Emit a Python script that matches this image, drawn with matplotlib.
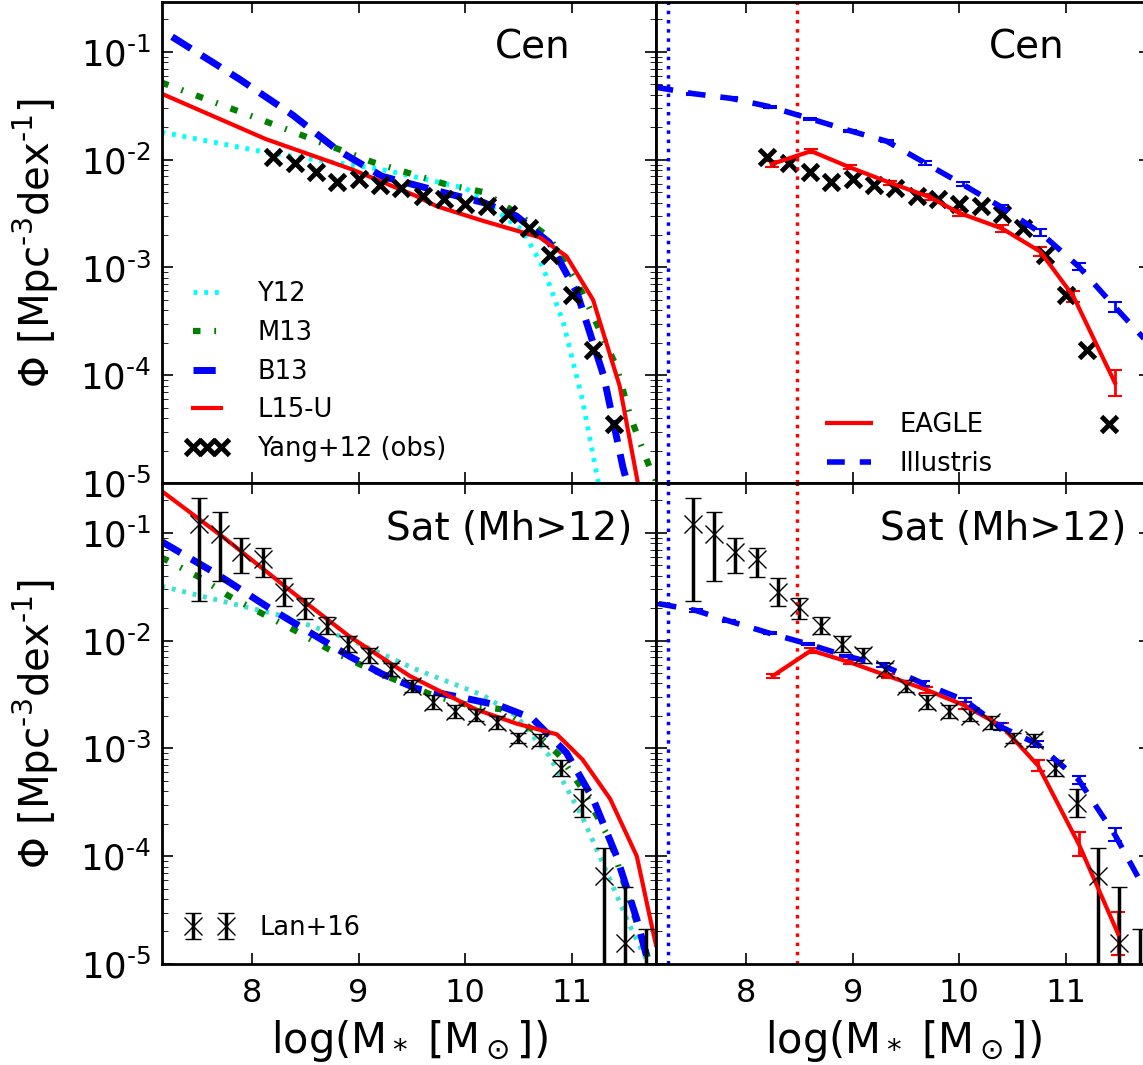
import numpy as np
import matplotlib
matplotlib.use('Agg')
import matplotlib.pyplot as plt
from matplotlib.lines import Line2D
from matplotlib.ticker import FuncFormatter

plt.rcParams['font.family'] = ['DejaVu Sans']
plt.rcParams['font.size'] = 24
plt.rcParams['axes.linewidth'] = 2
plt.rcParams['axes.unicode_minus'] = False
plt.rcParams['xtick.direction'] = 'in'
plt.rcParams['ytick.direction'] = 'in'
plt.rcParams['xtick.top'] = True
plt.rcParams['ytick.right'] = True
plt.rcParams['xtick.major.size'] = 8
plt.rcParams['ytick.major.size'] = 8
plt.rcParams['xtick.minor.size'] = 4
plt.rcParams['ytick.minor.size'] = 4
plt.rcParams['xtick.major.width'] = 1.2
plt.rcParams['ytick.major.width'] = 1.2
plt.rcParams['xtick.major.pad'] = 10
plt.rcParams['ytick.major.pad'] = 8
plt.rcParams['xtick.labelsize'] = 23
plt.rcParams['ytick.labelsize'] = 25.5

# --- centrals, models (top left)
y12_cen_x = [7.15, 8.13, 9.22, 10.01, 10.54, 10.73, 10.92, 11.1, 11.25]
y12_cen_y = [0.018, 0.0117, 0.0081, 0.0054, 0.0022, 0.001, 3.1e-4, 5.9e-5, 1e-5]
m13_cen_x = [7.15, 8.16, 9.13, 9.82, 10.17, 10.48, 10.79, 11.1, 11.42, 11.55, 11.73, 11.8]
m13_cen_y = [0.052, 0.022, 0.0095, 0.0059, 0.005, 0.0032, 0.0019, 5.8e-4, 1.2e-4, 4.1e-5, 1.4e-5, 1e-5]
b13_cen_x = [7.25, 7.88, 8.38, 8.79, 9.22, 9.85, 10.17, 10.48, 10.79, 11.05, 11.3, 11.48, 11.52]
b13_cen_y = [0.138, 0.056, 0.026, 0.0125, 0.007, 0.0048, 0.004, 0.003, 0.0017, 5.8e-4, 9.8e-5, 1.4e-5, 1e-5]
l15_cen_x = [7.15, 8.13, 8.94, 9.54, 9.73, 10.17, 10.7, 10.95, 11.2, 11.45, 11.62]
l15_cen_y = [0.041, 0.0155, 0.0081, 0.0046, 0.0037, 0.0027, 0.0019, 0.00127, 5e-4, 7.9e-5, 1e-5]

# Yang+12 observed centrals
yang_x = [8.2, 8.4, 8.6, 8.8, 9.0, 9.2, 9.4, 9.6, 9.8, 10.0, 10.2, 10.4, 10.6, 10.8, 11.0, 11.2, 11.4]
yang_y = [0.0105, 0.0093, 0.0076, 0.0062, 0.0066, 0.0058, 0.0054, 0.0046, 0.0043, 0.0039,
          0.0037, 0.0031, 0.0023, 0.0013, 5.6e-4, 1.7e-4, 3.5e-5]

# --- centrals, simulations (top right)
eagle_cen_x = [8.24, 8.61, 8.97, 9.35, 9.72, 10.0, 10.4, 10.76, 11.07, 11.46]
eagle_cen_y = [0.0091, 0.012, 0.0085, 0.0061, 0.0045, 0.0032, 0.0023, 0.0014, 5.4e-4, 8.5e-5]
eagle_cen_err = [0.03, 0.02, 0.02, 0.02, 0.03, 0.03, 0.03, 0.04, 0.05, 0.12]
ill_cen_x = [7.15, 7.5, 7.86, 8.22, 8.6, 8.97, 9.32, 9.68, 10.03, 10.4, 10.76, 11.12, 11.46, 11.79]
ill_cen_y = [0.047, 0.041, 0.037, 0.031, 0.024, 0.0186, 0.0148, 0.0093, 0.0059, 0.0036,
             0.0021, 0.00102, 4.3e-4, 1.9e-4]
ill_cen_err = [0.01, 0.01, 0.01, 0.01, 0.01, 0.01, 0.01, 0.02, 0.02, 0.02, 0.03, 0.03, 0.05, 0.06]

# --- satellites, models (bottom left)
y12_sat_x = [7.15, 7.66, 8.28, 8.91, 9.54, 10.17, 10.48, 10.79, 11.1, 11.36, 11.55, 11.7, 11.79]
y12_sat_y = [0.032, 0.024, 0.017, 0.0103, 0.0054, 0.0031, 0.002, 8.5e-4, 2.3e-4, 6e-5, 2.2e-5, 1.1e-5, 8e-6]
m13_sat_x = [7.15, 7.5, 7.78, 8.1, 8.41, 8.72, 9.03, 9.35, 9.7, 10.04, 10.35, 10.63, 10.89,
             11.1, 11.36, 11.61, 11.72, 11.79]
m13_sat_y = [0.059, 0.039, 0.026, 0.0177, 0.0123, 0.0083, 0.0059, 0.0043, 0.0031, 0.0025,
             0.0023, 0.0015, 8.5e-4, 4.2e-4, 1.4e-4, 2.4e-5, 1.1e-5, 8e-6]
b13_sat_x = [7.15, 7.66, 8.13, 8.6, 8.91, 9.22, 9.54, 10.01, 10.32, 10.63, 10.95, 11.2, 11.42,
             11.61, 11.7, 11.79]
b13_sat_y = [0.083, 0.042, 0.021, 0.011, 0.0072, 0.0049, 0.0036, 0.0029, 0.0025, 0.0019,
             9.1e-4, 3.4e-4, 1e-4, 2.6e-5, 1.2e-5, 7e-6]
l15_sat_x = [7.15, 7.75, 8.38, 8.91, 9.48, 10.1, 10.48, 10.86, 11.1, 11.36, 11.61, 11.73, 11.79]
l15_sat_y = [0.245, 0.088, 0.028, 0.011, 0.0047, 0.0023, 0.0017, 0.00135, 7.9e-4, 3.4e-4,
             1e-4, 2.8e-5, 1.5e-5]

# Lan+16 observed satellites (value, lower and upper bounds)
lan_x = [7.5, 7.7, 7.9, 8.1, 8.3, 8.5, 8.7, 8.9, 9.1, 9.3, 9.5, 9.7, 9.9, 10.1, 10.3, 10.5,
         10.7, 10.9, 11.1, 11.3, 11.5, 11.7]
lan_y = [0.121, 0.098, 0.066, 0.057, 0.028, 0.0205, 0.0138, 0.0093, 0.0073, 0.0054, 0.0038,
         0.0027, 0.0022, 0.002, 0.00174, 0.00126, 0.0012, 6.6e-4, 3.1e-4, 6.5e-5, 1.55e-5, 7e-6]
lan_lo = [0.0234, 0.036, 0.042, 0.039, 0.021, 0.016, 0.0115, 0.0078, 0.0062, 0.0047, 0.0033,
          0.0023, 0.0019, 0.0018, 0.0015, 0.00112, 0.00106, 5.6e-4, 2.3e-4, 1e-7, 1e-7, 1e-7]
lan_hi = [0.21, 0.155, 0.089, 0.072, 0.038, 0.025, 0.0165, 0.011, 0.0086, 0.0062, 0.0043,
          0.0031, 0.0025, 0.0023, 0.002, 0.0014, 0.00135, 7.8e-4, 4.2e-4, 1.2e-4, 5.2e-5, 2.1e-5]

# --- satellites, simulations (bottom right)
eagle_sat_x = [8.25, 8.61, 8.97, 9.33, 9.69, 10.05, 10.4, 10.74, 11.12, 11.49]
eagle_sat_y = [0.0047, 0.0081, 0.0063, 0.0047, 0.0035, 0.0025, 0.0016, 6.9e-4, 1.3e-4, 1.9e-5]
eagle_sat_err = [0.02, 0.02, 0.02, 0.02, 0.03, 0.03, 0.03, 0.05, 0.11, 0.2]
ill_sat_x = [7.18, 7.53, 7.84, 8.22, 8.58, 8.94, 9.28, 9.66, 10.05, 10.38, 10.73, 11.12, 11.46, 11.79]
ill_sat_y = [0.022, 0.019, 0.0152, 0.0117, 0.0093, 0.0072, 0.0059, 0.004, 0.0028, 0.0016,
             0.0011, 5.1e-4, 1.58e-4, 4e-5]
ill_sat_err = [0.01, 0.01, 0.01, 0.01, 0.01, 0.01, 0.02, 0.02, 0.02, 0.03, 0.03, 0.04, 0.06, 0.08]

# vertical resolution limits in the simulation panels
lim_illustris = 7.27
lim_eagle = 8.48

# line styles
st_y12 = dict(ls=':', lw=3.5, dashes=(0.8, 1.4))
st_m13 = dict(color='green', lw=4.5, dashes=(1.2, 2.2, 0.3, 2.2))
st_b13 = dict(color='blue', lw=5, dashes=(3.2, 1.8))
st_l15 = dict(color='red', ls='-', lw=3)
st_eagle = dict(color='red', ls='-', lw=3)
st_ill = dict(color='blue', lw=4, dashes=(3.2, 2.7))


def dex_err(y, e):
    y = np.array(y)
    e = np.array(e)
    return [y * (1 - 10 ** -e), y * (10 ** e - 1)]


def log_label(v, pos):
    k = int(round(np.log10(v)))
    return r'$\mathdefault{10^{\text{-}%d}}$' % (-k)


fig = plt.figure(figsize=(11.43, 10.65), dpi=100)
W, H = 0.4322, 0.4516
ax_tl = fig.add_axes([0.1417, 0.5465, W, H])
ax_tr = fig.add_axes([0.574, 0.5465, W, H])
ax_bl = fig.add_axes([0.1417, 0.0949, W, H])
ax_br = fig.add_axes([0.574, 0.0949, W, H])

# top left: centrals, empirical models
ax_tl.plot(y12_cen_x, y12_cen_y, color='cyan', label='Y12', **st_y12)
ax_tl.plot(m13_cen_x, m13_cen_y, label='M13', **st_m13)
ax_tl.plot(b13_cen_x, b13_cen_y, label='B13', **st_b13)
ax_tl.plot(l15_cen_x, l15_cen_y, label='L15-U', **st_l15)
ax_tl.plot(yang_x, yang_y, 'x', color='black', ms=12, mew=3.5, label='Yang+12 (obs)')
ax_tl.legend(loc='lower left', bbox_to_anchor=(0.0, -0.005), frameon=False, numpoints=3,
             fontsize=18.5, handlelength=1.7, labelspacing=0.5, handletextpad=1.1)

# top right: centrals, simulations
ax_tr.errorbar(eagle_cen_x, eagle_cen_y, yerr=dex_err(eagle_cen_y, eagle_cen_err),
               elinewidth=2, capsize=5, capthick=1.5, **st_eagle)
ax_tr.errorbar(ill_cen_x, ill_cen_y, yerr=dex_err(ill_cen_y, ill_cen_err),
               elinewidth=2, capsize=5, capthick=1.5, **st_ill)
ax_tr.plot(yang_x, yang_y, 'x', color='black', ms=12, mew=3.5)
sim_handles = [Line2D([], [], **st_eagle), Line2D([], [], **st_ill)]
ax_tr.legend(sim_handles, ['EAGLE', 'Illustris'], loc='lower left', bbox_to_anchor=(0.30, -0.035),
             frameon=False, fontsize=18.5, handlelength=1.7, labelspacing=0.5, handletextpad=1.1)

# bottom left: satellites, empirical models
ax_bl.plot(y12_sat_x, y12_sat_y, color='turquoise', **st_y12)
ax_bl.plot(m13_sat_x, m13_sat_y, **st_m13)
ax_bl.plot(b13_sat_x, b13_sat_y, **st_b13)
ax_bl.plot(l15_sat_x, l15_sat_y, **st_l15)
lan_err = [np.array(lan_y) - np.array(lan_lo), np.array(lan_hi) - np.array(lan_y)]
ax_bl.errorbar(lan_x, lan_y, yerr=lan_err, fmt='x', color='black', ms=13, mew=1.0,
               elinewidth=2.5, capsize=6, capthick=2, label='Lan+16')
ax_bl.legend(loc='lower left', bbox_to_anchor=(0.0, 0.0), frameon=False, numpoints=2,
             fontsize=18.5, handlelength=1.9, handletextpad=1.0)

# bottom right: satellites, simulations
ax_br.errorbar(eagle_sat_x, eagle_sat_y, yerr=dex_err(eagle_sat_y, eagle_sat_err),
               elinewidth=2, capsize=5, capthick=1.5, **st_eagle)
ax_br.errorbar(ill_sat_x, ill_sat_y, yerr=dex_err(ill_sat_y, ill_sat_err),
               elinewidth=2, capsize=5, capthick=1.5, **st_ill)
ax_br.errorbar(lan_x, lan_y, yerr=lan_err, fmt='x', color='black', ms=13, mew=1.0,
               elinewidth=2.5, capsize=6, capthick=2)

for ax in (ax_tr, ax_br):
    ax.axvline(lim_illustris, color='blue', ls=':', lw=2.5)
    ax.axvline(lim_eagle, color='red', ls=':', lw=2.5)

titles = {ax_tl: ('Cen', 0.826), ax_tr: ('Cen', 0.826),
          ax_bl: ('Sat (Mh>12)', 0.953), ax_br: ('Sat (Mh>12)', 0.953)}
for ax, (t, xpos) in titles.items():
    ax.text(xpos, 0.905, t, transform=ax.transAxes, ha='right', va='center', fontsize=28)

for ax in (ax_tl, ax_tr, ax_bl, ax_br):
    ax.set_yscale('log')
    ax.set_xlim(7.155, 11.79)
    ax.set_ylim(1e-5, 0.29)
    ax.set_xticks([8, 9, 10, 11])
    ax.yaxis.set_major_formatter(FuncFormatter(log_label))
    ax.tick_params(which='both', top=True, right=True)

for ax in (ax_tl, ax_tr):
    ax.tick_params(labelbottom=False)
for ax in (ax_tr, ax_br):
    ax.tick_params(labelleft=False)

for ax in (ax_tl, ax_bl):
    ax.set_ylabel(r'$\Phi$ [Mpc$^{\text{-}3}$dex$^{\text{-}1}$]', fontsize=29)
    ax.yaxis.set_label_coords(-0.205, 0.5)
for ax in (ax_bl, ax_br):
    ax.set_xlabel(r'log(M$_*$ [M$_\odot$])', fontsize=30)
    ax.xaxis.set_label_coords(0.5, -0.112)

plt.savefig('out.png', dpi=100)
